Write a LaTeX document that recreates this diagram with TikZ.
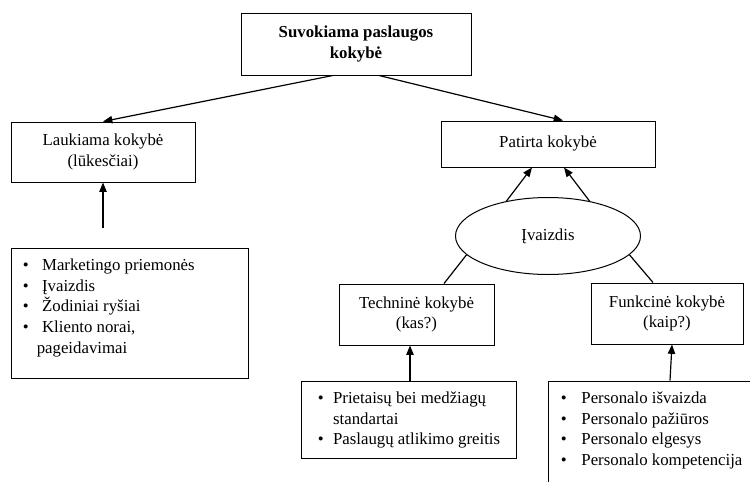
\documentclass[tikz,border=0pt]{standalone}
\usepackage{fontspec}
\setmainfont{Liberation Serif}
\usetikzlibrary{arrows.meta,shapes.geometric,calc}
\newcommand{\blt}[1][15pt]{\makebox[#1][l]{\textbullet}}

\begin{document}
\begin{tikzpicture}[x=0.75pt, y=-0.75pt,
    box/.style={draw, line width=0.75pt, align=center, inner sep=0pt,
      font=\fontsize{12.6}{15.3}\selectfont},
    lst/.style={anchor=base west, inner sep=0pt,
      font=\fontsize{12.6}{15.5}\selectfont},
    arr/.style={-{Triangle[length=7pt,width=5.5pt]}, line width=0.9pt},
    lne/.style={line width=0.9pt}]
  \useasboundingbox (0,0) rectangle (750,482);
  \clip (0,0) rectangle (750,482);

  \node[box, minimum width=172.5pt, minimum height=46.5pt,
    font=\fontsize{12.6}{15.3}\selectfont\bfseries] (top) at (356,44)
    {Suvokiama paslaugos\\kokybė};
  \node[box, minimum width=138pt, minimum height=45pt] (lauk) at (103,152)
    {Laukiama kokybė\\(lūkesčiai)};
  \node[box, minimum width=160.5pt, minimum height=34.5pt] (pat) at (548,144)
    {\raisebox{3pt}{Patirta kokybė}};
  \node[box, ellipse, minimum width=138.75pt, minimum height=57.75pt] (ell) at (548,236)
    {Įvaizdis};
  \node[box, minimum width=116.25pt, minimum height=45.75pt] (tech) at (416.5,314.5)
    {Techninė kokybė\\(kas?)};
  \node[box, minimum width=114pt, minimum height=45.75pt] (funk) at (667,313.5)
    {Funkcinė kokybė\\(kaip?)};

  % sarasai
  \node[box, minimum width=177.75pt, minimum height=97.5pt] (lst1) at (129.5,313) {};
  \node[box, minimum width=161.25pt, minimum height=57.75pt] (lst2) at (408.5,419.5) {};
  \node[box, minimum width=166.5pt, minimum height=96.75pt] (lst3) at (659,445.5) {};
  \node[lst] (txt1) at ($(lst1.north west)+(12,23)$)
    {\begin{tabular}[t]{@{}l@{}}
     \blt[14.5pt]Marketingo priemonės\\
     \blt[14.5pt]Įvaizdis\\
     \blt[14.5pt]Žodiniai ryšiai\\
     \blt[14.5pt]Kliento norai,\\
     \hspace{10.5pt}pageidavimai
     \end{tabular}};
  \node[lst] (txt2) at ($(lst2.north west)+(17,23)$)
    {\begin{tabular}[t]{@{}l@{}}
     \blt[11.5pt]Prietaisų bei medžiagų\\
     \hspace{11.5pt}standartai\\
     \blt[11.5pt]Paslaugų atlikimo greitis
     \end{tabular}};
  \node[lst] (txt3) at ($(lst3.north west)+(13,23)$)
    {\begin{tabular}[t]{@{}l@{}}
     \blt[15.5pt]Personalo išvaizda\\
     \blt[15.5pt]Personalo pažiūros\\
     \blt[15.5pt]Personalo elgesys\\
     \blt[15.5pt]Personalo kompetencija
     \end{tabular}};

  \draw[arr] ($(top.south west)!0.4!(top.south east)$) -- (lauk.north);
  \draw[arr] ($(top.south west)!0.6!(top.south east)$) -- ($(pat.north)+(15,0)$);
  \draw[arr] (ell.140) -- ($(pat.south)+(-16,0)$);
  \draw[arr] (ell.40) -- ($(pat.south)+(16,0)$);
  \draw[lne] (ell.193) -- ($(tech.north)+(27.5,0)$);
  \draw[lne] (ell.347) -- ($(funk.north)+(-14,0)$);
  \coordinate (lk) at (103,228);
  \draw[arr] (lk) -- (lauk.south);
  \draw[arr] ($(lst2.north)+(1.5,0)$) -- ($(tech.south)+(-6.5,0)$);
  \draw[arr] ($(lst3.north)+(11,0)$) -- ($(funk.south)+(5,0)$);
\end{tikzpicture}
\end{document}
